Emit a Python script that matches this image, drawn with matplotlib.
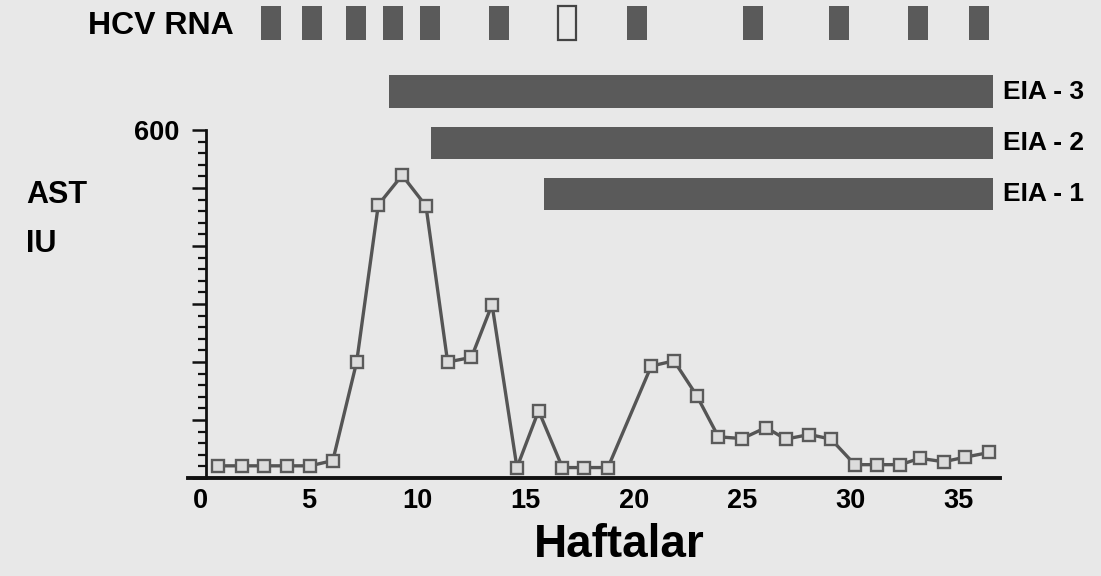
import numpy as np
import matplotlib
matplotlib.use("Agg")
import matplotlib.pyplot as plt

plt.rcParams['font.family'] = ['Liberation Sans', 'DejaVu Sans']
plt.rcParams['font.weight'] = 'bold'

# AST values (IU), x in weeks
weeks = [0.8, 1.9, 2.9, 4.0, 5.05, 6.1, 7.2, 8.2, 9.3, 10.4, 11.4, 12.5,
         13.45, 14.6, 15.6, 16.7, 17.7, 18.8, 20.8, 21.85, 22.9, 23.9,
         25.0, 26.1, 27.0, 28.1, 29.1, 30.2, 31.2, 32.3, 33.2, 34.3, 35.3, 36.4]
ast = [21, 21, 21, 21, 21, 30, 200, 471, 522, 469, 200, 208,
       299, 18, 116, 18, 18, 18, 193, 202, 142, 71,
       68, 87, 67, 75, 67, 23, 23, 23, 34, 28, 36, 44]

# HCV RNA samples (True = positive / filled)
rna_weeks = [3.24, 5.14, 7.19, 8.88, 10.59, 13.79, 16.91, 20.13, 25.48, 29.45, 33.11, 35.93]
rna_pos = [True, True, True, True, True, True, False, True, True, True, True, True]

# antibody tests: first positive week, lasting to end of follow-up
eia_labels = ["EIA - 3", "EIA - 2", "EIA - 1"]
eia_start = [8.71, 10.63, 15.85]
eia_end = 36.58

bg = '#e8e8e8'
dark = '#5a5a5a'

fig = plt.figure(figsize=(11.01, 5.76), dpi=100, facecolor=bg)
ax = fig.add_axes([188/1101, 98/576, 812/1101, 475.6/576], facecolor=bg)
ax.set_xlim(-0.586, 36.90)
ax.set_ylim(0, 820)

# EIA bars
eia_y = [666, 578, 490]
for lab, st, yy in zip(eia_labels, eia_start, eia_y):
    ax.barh(yy, eia_end - st, left=st, height=56, color=dark, edgecolor='none')
    ax.text(eia_end + 0.45, yy, lab, ha='left', va='center', fontsize=19,
            fontweight='bold', clip_on=False)

# HCV RNA boxes
for w, pos in zip(rna_weeks, rna_pos):
    if pos:
        ax.bar(w, 58, bottom=755, width=0.92, color=dark, edgecolor='none')
    else:
        ax.bar(w, 58, bottom=755, width=0.82, color=bg, edgecolor='#444444', linewidth=1.6)

# AST curve
ax.plot(weeks, ast, color='#555555', lw=2.4, marker='s', markersize=9,
        mfc='#dcdcdc', mec='#5a5a5a', mew=1.7, zorder=3)

# axes styling
for s in ['top', 'right']:
    ax.spines[s].set_visible(False)
ax.spines['left'].set_position(('data', 0.245))
ax.spines['left'].set_bounds(0, 600)
ax.spines['left'].set_linewidth(2.0)
ax.spines['bottom'].set_linewidth(2.8)
ax.spines['bottom'].set_color('#111111')
ax.spines['left'].set_color('#111111')

ax.set_yticks(range(0, 601, 100))
ax.set_yticklabels([''] * 6 + ['600'])
ax.set_yticks(range(0, 601, 20), minor=True)
ax.tick_params(axis='y', which='major', length=10, width=1.8, direction='out',
               pad=9, labelsize=19.5, color='#111111')
ax.tick_params(axis='y', which='minor', length=6, width=1.6, direction='out',
               color='#111111')

ax.set_xticks(range(0, 36, 5))
ax.tick_params(axis='x', which='both', length=0, pad=7, labelsize=19.5)

fig.text(619/1101, 1 - 545/576, "Haftalar", ha='center', va='center',
         fontsize=33, fontweight='bold')
fig.text(26/1101, 1 - 195/576, "AST", ha='left', va='center', fontsize=22, fontweight='bold')
fig.text(26/1101, 1 - 244/576, "IU", ha='left', va='center', fontsize=22, fontweight='bold')
fig.text(88/1101, 1 - 26/576, "HCV RNA", ha='left', va='center', fontsize=23, fontweight='bold')

fig.savefig("out.png", dpi=100, facecolor=bg)
